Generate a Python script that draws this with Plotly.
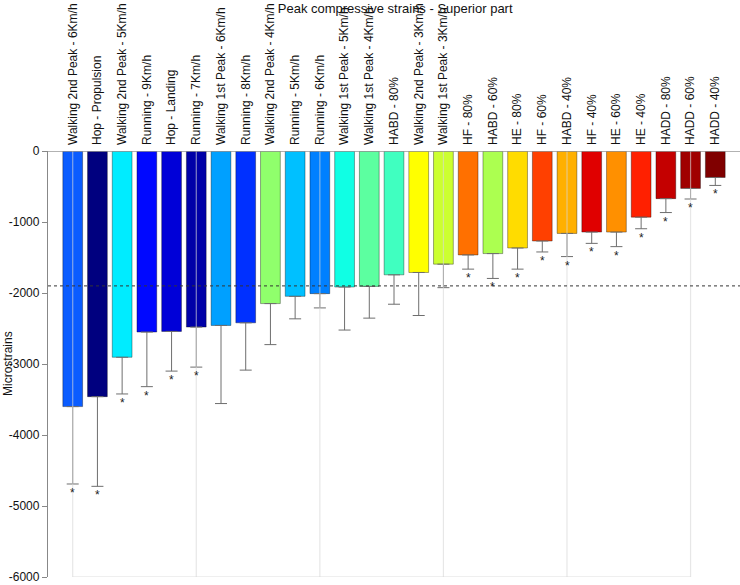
import plotly.graph_objects as go

categories = [
    "Walking 2nd Peak - 6Km/h", "Hop - Propulsion", "Walking 2nd Peak - 5Km/h",
    "Running - 9Km/h", "Hop - Landing", "Running - 7Km/h",
    "Walking 1st Peak - 6Km/h", "Running - 8Km/h", "Walking 2nd Peak - 4Km/h",
    "Running - 5Km/h", "Running - 6Km/h", "Walking 1st Peak - 5Km/h",
    "Walking 1st Peak - 4Km/h", "HABD - 80%", "Walking 2nd Peak - 3Km/h",
    "Walking 1st Peak - 3Km/h", "HF - 80%", "HABD - 60%", "HE - 80%",
    "HF - 60%", "HABD - 40%", "HF - 40%", "HE - 60%", "HE - 40%",
    "HADD - 80%", "HADD - 60%", "HADD - 40%",
]
means = [-3600, -3460, -2905, -2550, -2541, -2480, -2457, -2420, -2149,
         -2047, -2009, -1916, -1907, -1744, -1711, -1594, -1464, -1445,
         -1366, -1268, -1161, -1142, -1142, -932, -671, -527, -373]
sd = [1090, 1263, 517, 769, 559, 564, 1100, 666, 578,
      317, 201, 606, 447, 414, 606, 331, 200, 350,
      298, 154, 326, 159, 205, 163, 196, 149, 112]
significant = [1, 1, 1, 1, 1, 1, 0, 0, 0, 0, 0, 0, 0, 0, 0, 0,
               1, 1, 1, 1, 1, 1, 1, 1, 1, 1, 1]
colors = ["#0a5cff", "#00007f", "#00ecff", "#0008ff", "#0000d8", "#0000a8",
          "#00a0ff", "#0030ff", "#90ff6c", "#00c0ff", "#0080ff", "#10ffe4",
          "#5cffa0", "#40ffc0", "#ffff00", "#ccff30", "#ff7000", "#acff50",
          "#ffdc00", "#ff4000", "#ffb000", "#e00000", "#ff9000", "#ff2000",
          "#c40000", "#a00000", "#800000"]
reference_level = -1900
y_ticks = [0, -1000, -2000, -3000, -4000, -5000, -6000]

idx = list(range(len(categories)))

fig = go.Figure()
fig.add_trace(go.Bar(
    x=idx, y=means,
    marker=dict(color=colors, line=dict(color="rgba(0,0,0,0.35)", width=1)),
    width=0.8,
    error_y=dict(type="data", symmetric=False,
                 array=[0] * len(sd), arrayminus=sd,
                 color="#6e6e6e", thickness=1, width=6),
    showlegend=False, hoverinfo="skip",
))

annotations = [dict(text="Microstrains", textangle=-90, showarrow=False,
                    xref="paper", yref="paper", x=-40 / 692, y=0.5,
                    xanchor="center", yanchor="middle",
                    font=dict(size=12, color="#111"))]
for i in idx:
    if significant[i]:
        annotations.append(dict(
            x=i, y=means[i] - sd[i], xref="x", yref="y", text="*",
            showarrow=False, xanchor="center", yanchor="middle", yshift=-9,
            font=dict(family="Liberation Sans, Arial", size=12, color="#222")))

shapes = []
for gx in [0, 5, 10, 15, 20, 25]:
    shapes.append(dict(type="line", xref="x", yref="y", x0=gx, x1=gx,
                       y0=-6000, y1=0, layer="above",
                       line=dict(color="rgba(215,215,215,0.6)", width=1.2)))
shapes.append(dict(type="line", xref="x", yref="y", x0=0, x1=25,
                   y0=-6000, y1=-6000, layer="above",
                   line=dict(color="rgba(215,215,215,0.8)", width=1.2)))
shapes.append(dict(type="line", xref="paper", yref="y", x0=0, x1=1,
                   y0=reference_level, y1=reference_level, layer="above",
                   line=dict(color="#333", width=1, dash="dot")))
shapes.append(dict(type="line", xref="paper", yref="y", x0=0, x1=1,
                   y0=0, y1=0, layer="above",
                   line=dict(color="#999", width=1.3)))

fig.update_layout(
    width=740, height=585,
    margin=dict(l=48, r=0, t=151, b=8, pad=0),
    paper_bgcolor="white", plot_bgcolor="white",
    font=dict(family="Liberation Sans, Arial", size=12, color="#111"),
    title=dict(text="Peak compressive strains - Superior part",
               x=0.534, xanchor="center", y=0.993, yanchor="top",
               font=dict(size=13, color="#111"), pad=dict(t=0, b=0)),
    shapes=shapes,
    annotations=annotations,
    xaxis=dict(side="top", tickmode="array", tickvals=idx, ticktext=categories,
               tickangle=-90, range=[-1, 27], showgrid=False, zeroline=False,
               showline=False, ticks="", ticklabelstandoff=5,
               automargin=False, tickfont=dict(size=12)),
    yaxis=dict(range=[-6000, 0], tickvals=y_ticks,
               ticktext=[str(v) for v in y_ticks],
               showgrid=False, zeroline=False, showline=True,
               linecolor="#888", linewidth=1.3, ticks="outside",
               ticklen=5, tickcolor="#888", tickfont=dict(size=12),
               ticklabeloverflow="allow", automargin=False),
)

fig.write_html("out.html", config={"displayModeBar": False},
               post_script="document.body.style.margin='0';")
